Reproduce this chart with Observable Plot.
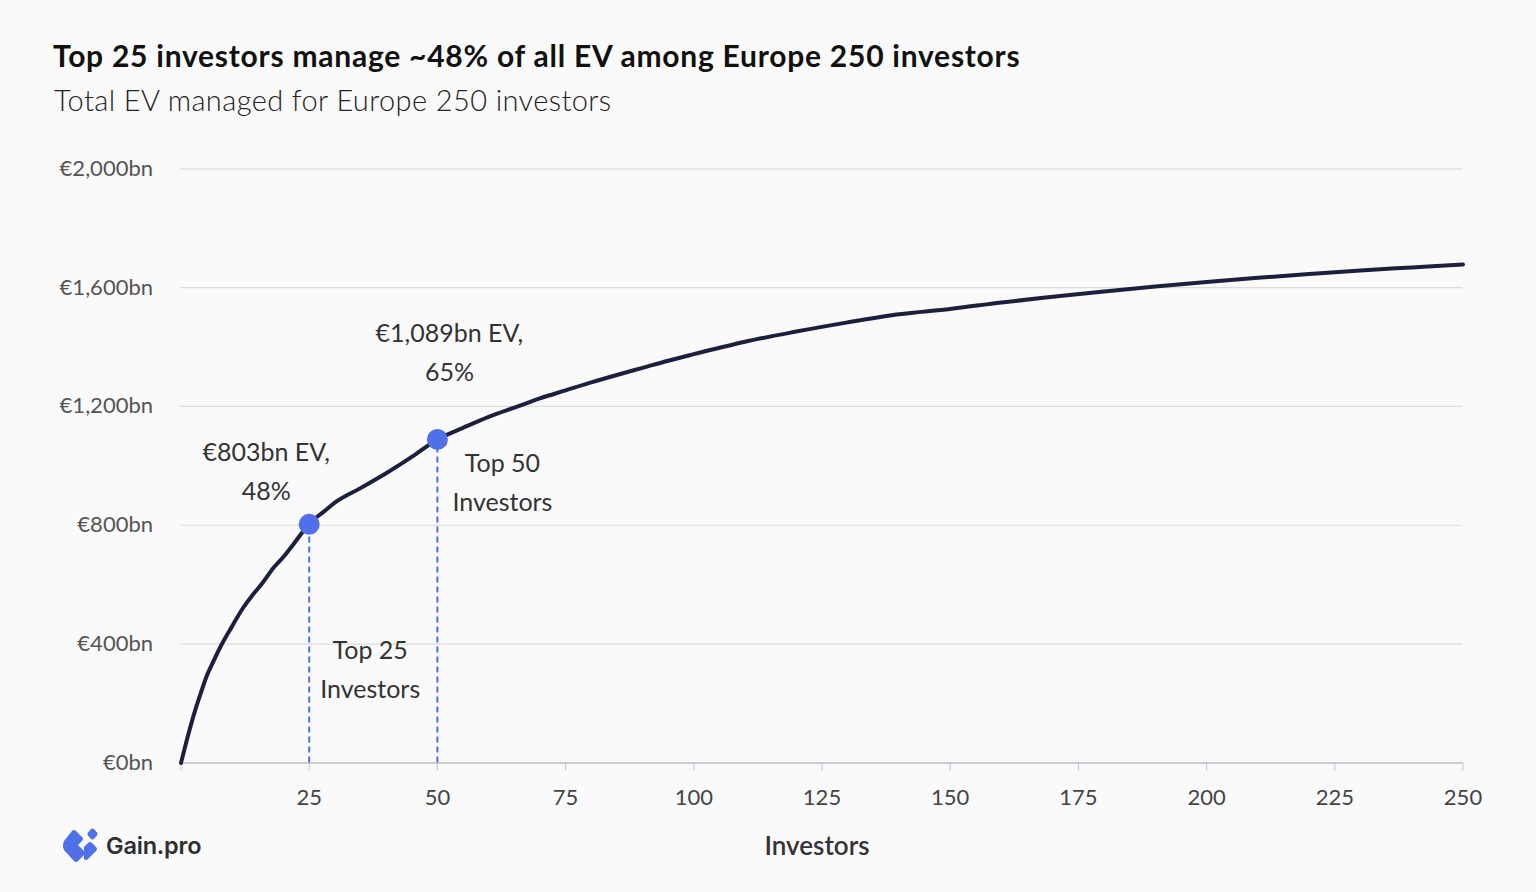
<!DOCTYPE html>
<html>
<head>
<meta charset="utf-8">
<script src="https://cdn.jsdelivr.net/npm/d3@7"></script>
<script src="https://cdn.jsdelivr.net/npm/@observablehq/plot@0.6"></script>
<style>
  html, body { margin: 0; padding: 0; background: #fafafa; }
  body { width: 1536px; height: 892px; position: relative; overflow: hidden; font-family: Lato, "Open Sans", sans-serif; }
  #title { position: absolute; left: 53px; top: 37px; font-size: 30px; letter-spacing: 0.75px; font-weight: 700; color: #111; white-space: nowrap; }
  #subtitle { position: absolute; left: 54px; top: 82px; font-size: 29px; letter-spacing: 0.4px; font-weight: 300; color: #222; white-space: nowrap; }
  #chart { position: absolute; left: 0; top: 130px; }
  #logo { position: absolute; left: 62px; top: 828px; display: flex; align-items: center; gap: 8px; }
  #logo span { font-family: Inter, sans-serif; font-weight: 600; font-size: 23.5px; color: #2e2e33; letter-spacing: -0.2px; }
</style>
</head>
<body>
<div id="title">Top 25 investors manage ~48% of all EV among Europe 250 investors</div>
<div id="subtitle">Total EV managed for Europe 250 investors</div>
<div id="chart"></div>
<div id="logo">
  <svg width="36" height="35" viewBox="0 0 36 35">
    <path d="M10 3 Q12 1 14 3 L20 9 Q22 11 20 13 L16 17 L22 23 Q24 25 22 27 L16 33 Q14 35 12 33 L2 22 Q0 17.5 2 13 Z" fill="#4f70e8"/>
    <path d="M29 1 Q30.5 0 32 1 L35 4.5 Q36 6 35 7.5 L32 11 Q30.5 12 29 11 L26 7.5 Q25 6 26 4.5 Z" fill="#4f70e8"/>
    <path d="M26 15 Q28 13 30 15 L34 19 Q36 21 34 23 L26 31 Q24 33 22 31 L22 19 Z" fill="#4f70e8"/>
  </svg>
  <span>Gain.pro</span>
</div>
<script>
// Data (cumulative EV, €bn, by investor rank)
const investors = [0, 1, 2, 3, 4, 5, 6, 8, 10, 12, 14, 16, 18, 20, 22, 25, 28, 30, 35, 40, 45, 50, 55, 60, 65, 70, 75, 80, 85, 90, 95, 100, 110, 120, 130, 140, 150, 160, 170, 180, 190, 200, 210, 220, 230, 240, 250];
const cumulativeEV = [0, 68, 132, 190, 242, 292, 330, 401, 461, 519, 566, 608, 656, 694, 738, 805, 848, 876, 925, 975, 1030, 1089, 1128, 1165, 1196, 1227, 1254, 1281, 1306, 1330, 1354, 1376, 1418, 1452, 1483, 1510, 1528, 1550, 1569, 1587, 1604, 1619, 1633, 1646, 1658, 1668, 1678];

const highlightRank = [25, 50];
const highlightEV = [803, 1089];
const valueLabels = ["€803bn EV,\n48%", "€1,089bn EV,\n65%"];
const topLabels = ["Top 25\nInvestors", "Top 50\nInvestors"];

const xTicks = [0, 25, 50, 75, 100, 125, 150, 175, 200, 225, 250];
const yTicks = [0, 400, 800, 1200, 1600, 2000];

const curve = investors.map((x, i) => ({x, y: cumulativeEV[i]}));
const highlights = highlightRank.map((x, i) => ({x, y: highlightEV[i], value: valueLabels[i], top: topLabels[i]}));

const fmt = d3.format(",");

const chart = Plot.plot({
  width: 1536,
  height: 760,
  marginLeft: 180.5,
  marginRight: 73.5,
  marginTop: 38.3,
  marginBottom: 127.6,
  style: {background: "transparent", fontFamily: "Lato, 'Open Sans', sans-serif", fontSize: "22px", overflow: "visible"},
  x: {domain: [0, 250]},
  y: {domain: [0, 2000]},
  marks: [
    Plot.gridY(yTicks, {stroke: "#dcdcdc", strokeOpacity: 1, strokeWidth: 1.2}),
    Plot.ruleY([0], {stroke: "#c4c4cc", strokeWidth: 1.5}),
    Plot.axisY(yTicks, {tickSize: 0, tickPadding: 28, tickFormat: d => "€" + fmt(d) + "bn", fill: "#555", fontSize: 22, label: null}),
    Plot.axisX(xTicks, {tickSize: 8, tickPadding: 18, stroke: "#c4c4cc", tickFormat: d => d === 0 ? "" : d, fill: "#444", fontSize: 22, label: null}),
    Plot.ruleX(highlights, {x: "x", y1: 0, y2: "y", stroke: "#4a6ee8", strokeWidth: 2, strokeDasharray: "6,4"}),
    Plot.line(curve, {x: "x", y: "y", stroke: "#1d1f3e", strokeWidth: 4, curve: "monotone-x", strokeLinecap: "round"}),
    Plot.dot(highlights, {x: "x", y: "y", r: 10.5, fill: "#4f70e8"}),
    Plot.text(highlights.slice(0, 1), {x: "x", y: "y", text: "value", dx: -43, dy: -56, fontSize: 25, lineHeight: 1.56, fill: "#333", textAnchor: "middle"}),
    Plot.text(highlights.slice(1, 2), {x: "x", y: "y", text: "value", dx: 12, dy: -90, fontSize: 25, lineHeight: 1.56, fill: "#333", textAnchor: "middle"}),
    Plot.text(highlights.slice(0, 1), {x: "x", y: 0, text: "top", dx: 61, dy: -97, fontSize: 25, lineHeight: 1.56, fill: "#333", textAnchor: "middle"}),
    Plot.text(highlights.slice(1, 2), {x: "x", y: "y", text: "top", dx: 65, dy: 40, fontSize: 25, lineHeight: 1.56, fill: "#333", textAnchor: "middle"}),
    Plot.text(["Investors"], {frameAnchor: "bottom", dy: 84, dx: -5, lineAnchor: "middle", fontSize: 26, fontWeight: 600, fill: "#333"})
  ]
});
document.getElementById("chart").appendChild(chart);
</script>
</body>
</html>
